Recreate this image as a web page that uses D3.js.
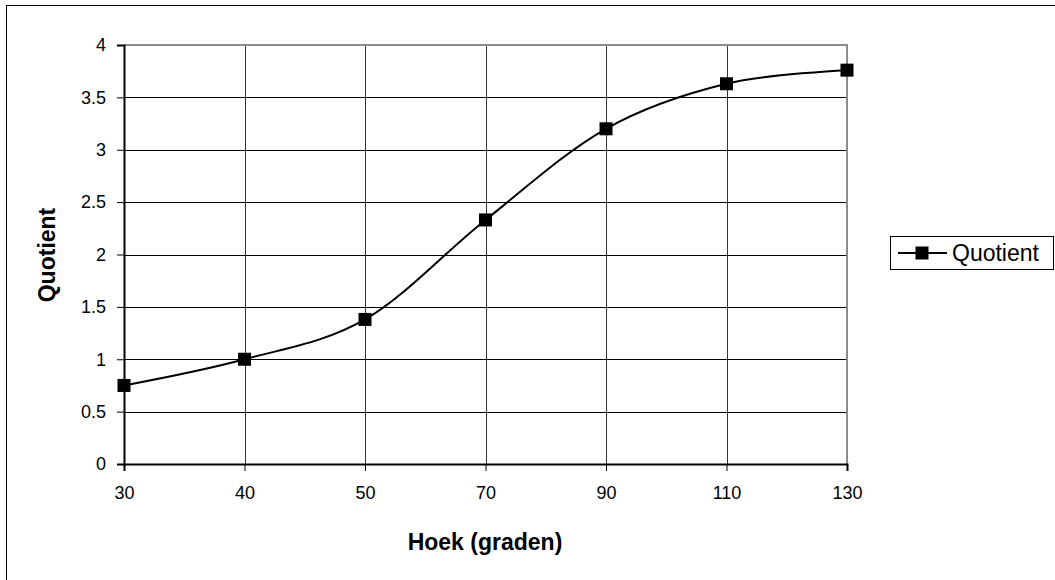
<!DOCTYPE html>
<html>
<head>
<meta charset="utf-8">
<script src="https://cdn.jsdelivr.net/npm/d3@7"></script>
<style>
  body { margin: 0; background: #fff; }
  svg { display: block; font-family: "Liberation Sans", Arial, sans-serif; }
</style>
</head>
<body>
<div id="chart"></div>
<script>
// chart data
const angles = ["30", "40", "50", "70", "90", "110", "130"];
const quotients = [0.75, 1.0, 1.38, 2.33, 3.2, 3.63, 3.76];
const yTicks = [0, 0.5, 1, 1.5, 2, 2.5, 3, 3.5, 4];
const seriesName = "Quotient";

var width = 1055, height = 580;
var plot = {left: 124, top: 45, right: 847, bottom: 464};
var tickFont = 18, titleFont = 23;

const svg = d3.select('#chart').append('svg')
	.attr('width', width)
	.attr('height', height);

// outer frame
svg.append('rect')
	.attr('x', 6.5).attr('y', 5.5)
	.attr('width', 1060).attr('height', 600)
	.attr('fill', 'none').attr('stroke', '#000').attr('stroke-width', 1);

var x = d3.scalePoint()
	.domain(angles)
	.range([plot.left, plot.right]);

var y = d3.scaleLinear()
	.domain([0, 4])
	.range([plot.bottom, plot.top]);

// horizontal grid
svg.append('g')
	.selectAll('line')
	.data(yTicks.filter(d => d > 0 && d < 4))
	.enter().append('line')
	.attr('x1', plot.left).attr('x2', plot.right)
	.attr('y1', d => Math.round(y(d)) + 0.5).attr('y2', d => Math.round(y(d)) + 0.5)
	.attr('stroke', '#000').attr('stroke-width', 1);

// vertical grid
svg.append('g')
	.selectAll('line')
	.data(angles.slice(1, -1))
	.enter().append('line')
	.attr('x1', d => Math.round(x(d)) + 0.5).attr('x2', d => Math.round(x(d)) + 0.5)
	.attr('y1', plot.top).attr('y2', plot.bottom)
	.attr('stroke', '#333').attr('stroke-width', 1);

// plot area border (top + right, gray)
svg.append('path')
	.attr('d', `M${plot.left},${plot.top} H${plot.right} V${plot.bottom}`)
	.attr('fill', 'none').attr('stroke', '#8c8c8c').attr('stroke-width', 2);

// y axis
var yAxis = d3.axisLeft(y)
	.tickValues(yTicks)
	.tickSize(7)
	.tickPadding(11)
	.tickFormat(d3.format('~g'));
var ya = svg.append('g')
	.attr('transform', `translate(${plot.left},0)`)
	.call(yAxis);
ya.attr('font-size', tickFont).attr('font-family', '"Liberation Sans", Arial, sans-serif');
ya.select('.domain').attr('stroke', '#000').attr('stroke-width', 2);
ya.selectAll('.tick line').attr('stroke', '#000').attr('stroke-width', 1);
ya.selectAll('text').attr('fill', '#000');

// x axis
var xAxis = d3.axisBottom(x)
	.tickSize(7)
	.tickPadding(15);
var xa = svg.append('g')
	.attr('transform', `translate(0,${plot.bottom})`)
	.call(xAxis);
xa.attr('font-size', tickFont).attr('font-family', '"Liberation Sans", Arial, sans-serif');
xa.select('.domain').attr('stroke', '#000').attr('stroke-width', 2);
xa.selectAll('.tick line').attr('stroke', '#000').attr('stroke-width', 1);
xa.selectAll('text').attr('fill', '#000');

// series line (smoothed)
var line = d3.line()
	.x((d, i) => x(angles[i]))
	.y(d => y(d))
	.curve(d3.curveCatmullRom.alpha(0));

svg.append('path')
	.datum(quotients)
	.attr('d', line)
	.attr('fill', 'none')
	.attr('stroke', '#000')
	.attr('stroke-width', 2);

var ms = 13;
svg.append('g')
	.selectAll('rect')
	.data(quotients)
	.enter().append('rect')
	.attr('x', (d, i) => x(angles[i]) - ms / 2)
	.attr('y', d => y(d) - ms / 2)
	.attr('width', ms).attr('height', ms)
	.attr('fill', '#000');

// axis titles
svg.append('text')
	.attr('x', 485)
	.attr('y', 550)
	.attr('text-anchor', 'middle')
	.attr('font-size', titleFont).attr('font-weight', 'bold')
	.text('Hoek (graden)');

svg.append('text')
	.attr('transform', 'translate(55,255) rotate(-90)')
	.attr('text-anchor', 'middle')
	.attr('font-size', titleFont).attr('font-weight', 'bold')
	.text('Quotient');

// legend
var lg = svg.append('g').attr('transform', 'translate(890,236)');
lg.append('rect')
	.attr('x', 0.5).attr('y', 0.5)
	.attr('width', 163).attr('height', 33)
	.attr('fill', '#fff').attr('stroke', '#000').attr('stroke-width', 1);
lg.append('line')
	.attr('x1', 8).attr('x2', 57)
	.attr('y1', 17).attr('y2', 17)
	.attr('stroke', '#000').attr('stroke-width', 2);
lg.append('rect')
	.attr('x', 32 - ms / 2).attr('y', 17 - ms / 2)
	.attr('width', ms).attr('height', ms)
	.attr('fill', '#000');
lg.append('text')
	.attr('x', 62).attr('y', 25)
	.attr('font-size', titleFont)
	.text(seriesName);
</script>
</body>
</html>
